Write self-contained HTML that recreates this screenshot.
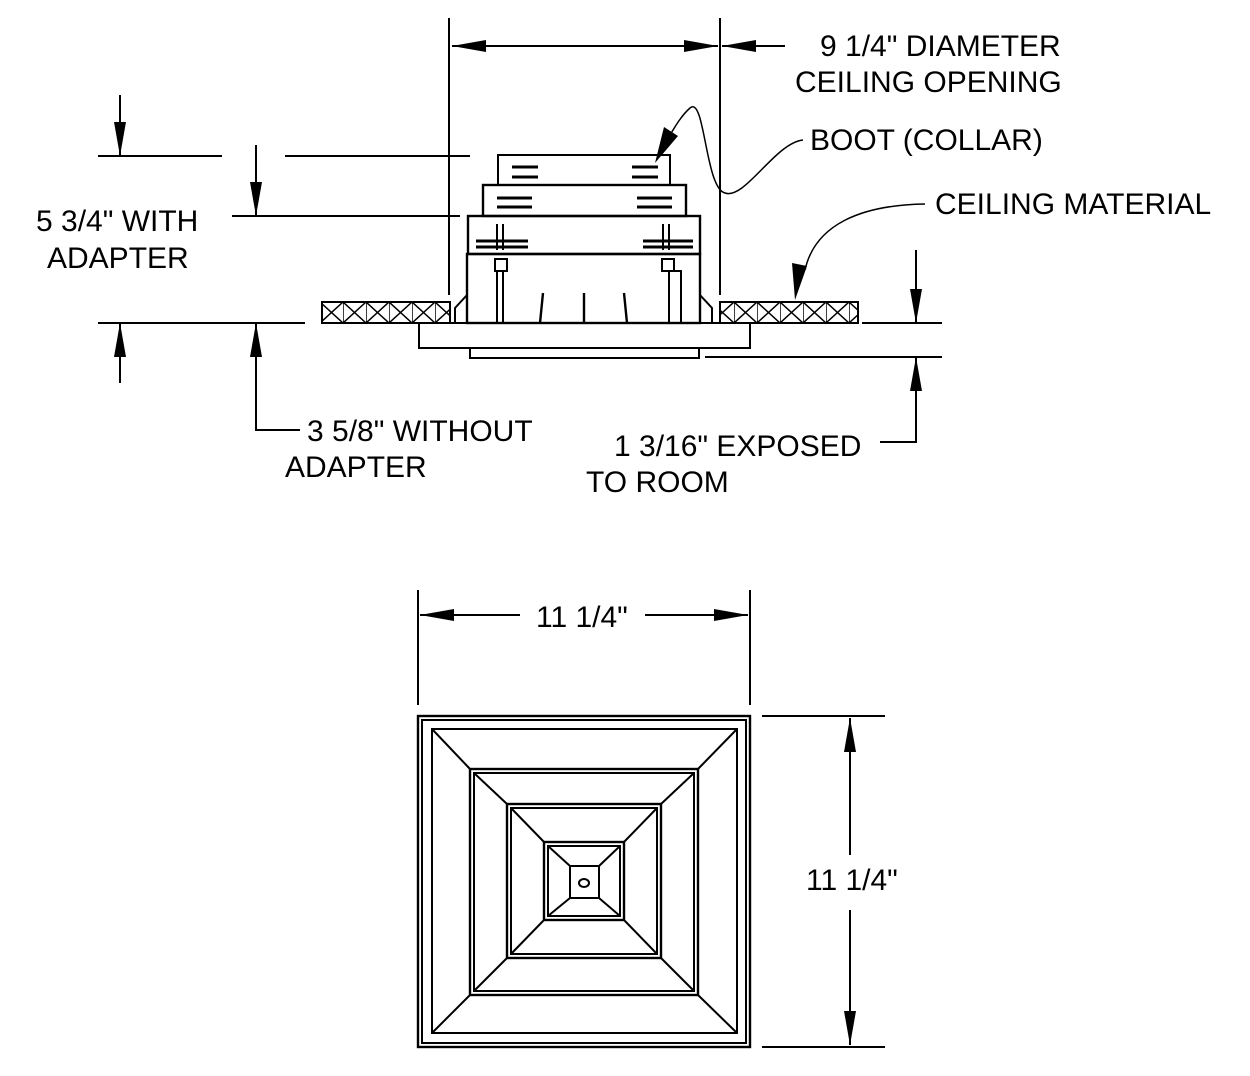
<!DOCTYPE html>
<html><head><style>
html,body{margin:0;padding:0;background:#fff;}
svg{display:block;}
text{font-family:"Liberation Sans",sans-serif;font-size:30px;fill:#000;}
</style></head><body>
<svg width="1250" height="1076" viewBox="0 0 1250 1076" xmlns="http://www.w3.org/2000/svg">
<defs>
<pattern id="hatch" x="320" y="302" width="23" height="21" patternUnits="userSpaceOnUse">
<path d="M0 0 L23 21 M23 0 L0 21 M0 0 V21" stroke="#000" stroke-width="1.5" fill="none"/>
</pattern>
</defs>
<g stroke="#000" stroke-width="2" fill="none">
<line x1="449" y1="18" x2="449" y2="295"/>
<line x1="720" y1="18" x2="720" y2="295"/>
<line x1="452" y1="46" x2="718" y2="46"/>
<line x1="722" y1="46" x2="785" y2="46"/>
<line x1="98" y1="156" x2="222" y2="156"/>
<line x1="285" y1="156" x2="470" y2="156"/>
<line x1="232" y1="216" x2="460" y2="216"/>
<line x1="98" y1="323" x2="305" y2="323"/>
<line x1="120" y1="95" x2="120" y2="156"/>
<line x1="120" y1="323" x2="120" y2="383"/>
<line x1="256" y1="145" x2="256" y2="216"/>
<polyline points="256,323 256,430 300,430"/>
<line x1="862" y1="323" x2="942" y2="323"/>
<line x1="705" y1="357" x2="942" y2="357"/>
<line x1="916" y1="250" x2="916" y2="323"/>
<polyline points="916,357 916,442 880,442"/>
<rect x="498" y="155" width="172" height="30"/>
<rect x="483" y="185" width="203" height="31" stroke-width="2.4"/>
<rect x="468" y="216" width="232" height="38" stroke-width="2.4"/>
<rect x="467" y="254" width="233" height="69" stroke-width="2.4"/>
<rect x="419" y="323" width="331" height="25"/>
<rect x="470" y="348" width="229" height="10"/>
<path d="M467 295 L455 308 L455 323 M700 295 L712 308 L712 323"/>
<g stroke-width="3">
<path d="M512 167H538M512 177H538M632 167H658M632 177H658"/>
<path d="M497 198H532M497 207H532M637 198H672M637 207H672"/>
<path d="M476 241H528M476 247H528M643 241H693M643 247H693"/>
</g>
<path d="M497 224V250M503 224V250M663 224V250M669 224V250"/>
<rect x="495" y="259" width="12" height="12"/>
<rect x="662" y="259" width="12" height="12"/>
<path d="M497 271V323M503 271V323M674 271H681V323M669 271V323"/>
<path d="M543 293L540 323M584 293V323M624 293L627 323" stroke-width="2.4"/>
<rect x="322" y="302" width="128" height="21" fill="url(#hatch)"/>
<rect x="720" y="302" width="138" height="21" fill="url(#hatch)"/>
<path d="M803 140 C775 143 745 200 725 193 C705 188 705 95 690 108 C682 115 676 125 670 135" stroke-width="1.5"/>
<path d="M925 204 C860 205 815 225 805 270" stroke-width="1.5"/>
<line x1="418" y1="590" x2="418" y2="705"/>
<line x1="750" y1="590" x2="750" y2="705"/>
<line x1="420" y1="615" x2="520" y2="615"/>
<line x1="645" y1="615" x2="748" y2="615"/>
<line x1="762" y1="716" x2="885" y2="716"/>
<line x1="762" y1="1047" x2="885" y2="1047"/>
<line x1="850" y1="718" x2="850" y2="855"/>
<line x1="850" y1="910" x2="850" y2="1045"/>
<rect x="418" y="716" width="332" height="331" stroke-width="2.4"/>
<rect x="422" y="720" width="324" height="323"/>
<rect x="432" y="729" width="305" height="304"/>
<rect x="470" y="769" width="228" height="226" stroke-width="2.4"/>
<rect x="474" y="773" width="220" height="218"/>
<rect x="507" y="804" width="154" height="154" stroke-width="2.4"/>
<rect x="511" y="808" width="146" height="146"/>
<rect x="544" y="842" width="80" height="78" stroke-width="2.4"/>
<rect x="548" y="846" width="72" height="70"/>
<rect x="570" y="866" width="29" height="32"/>
<ellipse cx="584" cy="883" rx="5" ry="4"/>
<path d="M432 729L470 769M737 729L698 769M432 1033L470 995M737 1033L698 995"/>
<path d="M474 773L507 804M694 773L661 804M474 991L507 958M694 991L661 958"/>
<path d="M511 808L544 842M657 808L624 842M511 954L544 920M657 954L624 920"/>
<path d="M548 846L570 866M620 846L599 866M548 916L570 898M620 916L599 898"/>
</g>
<g fill="#000">
<polygon points="452,46 486,40 486,52"/>
<polygon points="718,46 684,40 684,52"/>
<polygon points="722,46 756,40 756,52"/>
<polygon points="120,156 114,122 126,122"/>
<polygon points="120,323 114,357 126,357"/>
<polygon points="256,216 250,182 262,182"/>
<polygon points="256,323 250,357 262,357"/>
<polygon points="916,323 910,289 922,289"/>
<polygon points="916,357 910,391 922,391"/>
<polygon points="655,163 664,127 678,136"/>
<polygon points="795,300 792,263 807,266"/>
<polygon points="420,615 454,609 454,621"/>
<polygon points="748,615 714,609 714,621"/>
<polygon points="850,718 844,752 856,752"/>
<polygon points="850,1045 844,1011 856,1011"/>
</g>
<text x="820" y="56">9 1/4" DIAMETER</text>
<text x="795" y="92">CEILING OPENING</text>
<text x="810" y="150">BOOT (COLLAR)</text>
<text x="935" y="214">CEILING MATERIAL</text>
<text x="36" y="231">5 3/4" WITH</text>
<text x="47" y="268">ADAPTER</text>
<text x="307" y="441">3 5/8" WITHOUT</text>
<text x="285" y="477">ADAPTER</text>
<text x="614" y="456">1 3/16" EXPOSED</text>
<text x="586" y="492">TO ROOM</text>
<text x="536" y="627">11 1/4"</text>
<text x="806" y="890">11 1/4"</text>
</svg>
</body></html>
